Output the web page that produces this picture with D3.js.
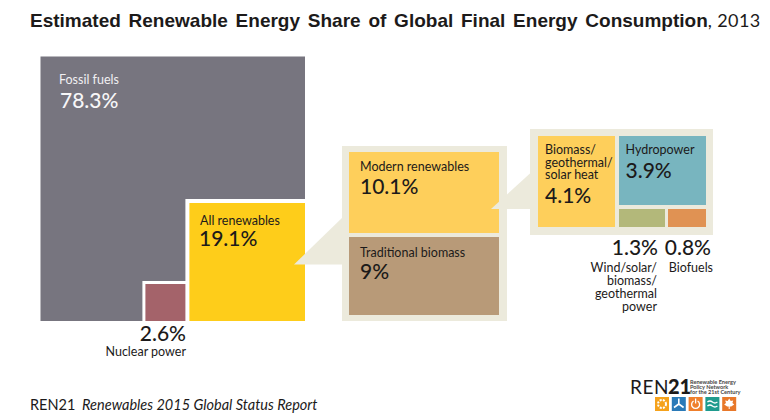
<!DOCTYPE html>
<html>
<head>
<meta charset="utf-8">
<script src="https://cdn.jsdelivr.net/npm/d3@7"></script>
<style>
html, body { margin: 0; padding: 0; background: #fff; }
svg { display: block; }
text { font-family: "Lato", "Open Sans", sans-serif; fill: #1c1a1a; }
.pct { font-size: 21px; font-weight: 500; }
.lbl { font-size: 12.5px; }
</style>
</head>
<body>
<div id="chart"></div>
<script>
// values, % of final energy
var mainCats = ['Fossil fuels', 'All renewables', 'Nuclear power'];
var mainVals = [78.3, 19.1, 2.6];
var renewCats = ['Modern renewables', 'Traditional biomass'];
var renewVals = [10.1, 9];
var modernCats = ['Biomass/geothermal/solar heat', 'Hydropower', 'Wind/solar/biomass/geothermal power', 'Biofuels'];
var modernVals = [4.1, 3.9, 1.3, 0.8];
var mainColors = ['#77757f', '#fecd1a', '#a4636a'];
var renewColors = ['#fecf5b', '#b89a78'];
var modernColors = ['#fecf5b', '#78b5bf', '#b3b87a', '#e09253'];

var width = 770, height = 420, beige = '#ecead c'.replace(' ', '');

var svg = d3.select('#chart').append('svg')
	.attr('width', width)
	.attr('height', height);

function box(x, y, w, h, fill) {
	return svg.append('rect').attr('x', x).attr('y', y).attr('width', w).attr('height', h).attr('fill', fill);
}

function label(x, y, txt, cls, anchor, fill) {
	return svg.append('text').attr('x', x).attr('y', y).attr('class', cls)
		.attr('text-anchor', anchor || 'start')
		.style('fill', fill || null)
		.text(txt);
}

// title
var title = svg.append('text').attr('x', 30).attr('y', 27).style('font-size', '19px');
title.append('tspan').style('font-family', '"Liberation Sans Narrow", "Liberation Sans", sans-serif')
	.style('font-weight', 700).style('word-spacing', '2.5px')
	.text('Estimated Renewable Energy Share of Global Final Energy Consumption');
title.append('tspan').style('font-size', '18px').style('letter-spacing', '0.4px').text(', 2013');

// main square: side grows with the root of the share
var right = 305, bottom = 321;
var side = d3.scaleSqrt().domain([0, 100]).range([0, 264.5]);
var nucW = d3.scaleSqrt().domain([0, mainVals[2]]).range([0, 40]);
var nucH = d3.scaleSqrt().domain([0, mainVals[2]]).range([0, 37]);

var renewSide = side(mainVals[1]);
var renewX = right - renewSide, renewY = bottom - renewSide - 2.4;

box(right - side(100), bottom - side(100), side(100), side(100), mainColors[0]);
box(renewX - 4, renewY - 4, renewSide + 4, bottom - renewY + 4, '#fff');
box(renewX - 4 - nucW(mainVals[2]) - 3, bottom - nucH(mainVals[2]) - 3, nucW(mainVals[2]) + 7, nucH(mainVals[2]) + 3, '#fff');
box(renewX, renewY, renewSide, bottom - renewY, mainColors[1]);
box(renewX - 4 - nucW(mainVals[2]), bottom - nucH(mainVals[2]), nucW(mainVals[2]), nucH(mainVals[2]), mainColors[2]);

// second panel, heights from the two renewables shares
var panelH = d3.scaleLinear().domain([renewVals[1], renewVals[0]]).range([78, 81]);
var modernY = 152, tradY = modernY + panelH(renewVals[0]) + 4;

svg.append('path').attr('fill', beige).attr('d', 'M294,264.5L343,217L343,264.5Z');
box(342, 146, 165, 175, beige);
box(349, modernY, 150, panelH(renewVals[0]), renewColors[0]);
box(349, tradY, 150, panelH(renewVals[1]), renewColors[1]);

// third panel
var colW = d3.scaleLinear().domain([modernVals[1], modernVals[0]]).range([87, 77]);
var rowH = d3.scaleLinear().domain([0, modernVals[1]]).range([0, 69]);
var smallW = d3.scaleLinear().domain([modernVals[3], modernVals[2]]).range([38, 46]);
var topY = 136, x0 = 538, x1 = x0 + colW(modernVals[0]) + 4;
var smallY = topY + rowH(modernVals[1]) + 4, smallH = 18;

svg.append('path').attr('fill', beige).attr('d', 'M491,209L531,172.5L531,209Z');
box(530, 129, 183, 106, beige);
box(x0, topY, colW(modernVals[0]), smallY + smallH - topY, modernColors[0]);
box(x1, topY, colW(modernVals[1]), rowH(modernVals[1]), modernColors[1]);
box(x1, smallY, smallW(modernVals[2]), smallH, modernColors[2]);
box(x1 + smallW(modernVals[2]) + 3, smallY, smallW(modernVals[3]), smallH, modernColors[3]);

// labels
function pct(v) { return v + '%'; }

label(59, 84, mainCats[0], 'lbl', 'start', '#f1f0f2');
label(60, 108, pct(mainVals[0]), 'pct', 'start', '#f7f7f8');
label(200, 225, mainCats[1], 'lbl');
label(199, 246, pct(mainVals[1]), 'pct');
label(186, 341, pct(mainVals[2]), 'pct', 'end');
label(186, 356, mainCats[2], 'lbl', 'end');

label(360, 171, renewCats[0], 'lbl');
label(360, 194, pct(renewVals[0]), 'pct');
label(360, 257, renewCats[1], 'lbl');
label(360, 279, pct(renewVals[1]), 'pct');

modernCats[0].replace(/\//g, '/\n').split('\n').forEach(function(t, i) {
	label(545, 154 + i * 12.7, t, 'lbl');
});
label(545, 203, pct(modernVals[0]), 'pct');
label(625.5, 154, modernCats[1], 'lbl');
label(625.5, 178, pct(modernVals[1]), 'pct');

label(658, 255, pct(modernVals[2]), 'pct', 'end');
label(711, 255, pct(modernVals[3]), 'pct', 'end');
['Wind/solar/', 'biomass/', 'geothermal', 'power'].forEach(function(t, i) {
	label(657, 272 + i * 13, t, 'lbl', 'end');
});
label(713, 272, modernCats[3], 'lbl', 'end');

// source line
var src = svg.append('text').attr('x', 30).attr('y', 410).style('font-size', '14.5px');
src.append('tspan').text('REN21 ');
src.append('tspan').attr('dx', 3).style('font-style', 'italic').text('Renewables 2015 Global Status Report');

// logo
var logo = svg.append('g').attr('class', 'logo');
logo.append('text').attr('x', 630).attr('y', 394).style('font-size', '19px').style('font-weight', 400).style('letter-spacing', '0.6px').text('REN');
logo.append('text').attr('x', 668).attr('y', 394).style('font-size', '20px').style('font-weight', 900).text('21');
['Renewable Energy', 'Policy Network', 'for the 21st Century'].forEach(function(t, i) {
	logo.append('text').attr('x', 690).attr('y', 383.5 + i * 5.4)
		.style('font-size', '5.6px').style('font-weight', 700).style('fill', '#444').text(t);
});

var logoColors = ['#f5a21c', '#2a7ab8', '#ef7f2c', '#1f9b8e', '#e8782a'];
logoColors.forEach(function(c, i) {
	var x = 655 + i * 16.8, g = logo.append('g').attr('transform', 'translate(' + (x + 7) + ',404)');
	g.append('rect').attr('x', -7).attr('y', -7).attr('width', 14).attr('height', 14).attr('fill', c);
	if (i == 0) {
		g.append('circle').attr('r', 4).attr('fill', 'none').attr('stroke', '#fff').attr('stroke-width', 2).attr('stroke-dasharray', '2 1.2');
	} else if (i == 1) {
		g.append('path').attr('d', 'M0,0L0,-5.5M0,0L-4.8,3.5M0,0L4.8,3.5').attr('stroke', '#fff').attr('stroke-width', 1.6).attr('fill', 'none');
	} else if (i == 2) {
		g.append('path').attr('d', 'M-2,-3A4,4 0 1 0 2,-3M0,-5.5L0,-0.5').attr('stroke', '#fff').attr('stroke-width', 1.3).attr('fill', 'none');
	} else if (i == 3) {
		g.append('path').attr('d', 'M-5,-2Q-2.5,-4 0,-2T5,-2M-5,2Q-2.5,0 0,2T5,2').attr('stroke', '#fff').attr('stroke-width', 1.3).attr('fill', 'none');
	} else {
		g.append('path').attr('d', 'M0,-5.5L1.5,-3L4,-3.5L3.2,-1L5,0.5L2,2.5L0.5,2.5L0.5,5L-0.5,5L-0.5,2.5L-2,2.5L-5,0.5L-3.2,-1L-4,-3.5L-1.5,-3Z').attr('fill', '#fff');
	}
});
</script>
</body>
</html>
